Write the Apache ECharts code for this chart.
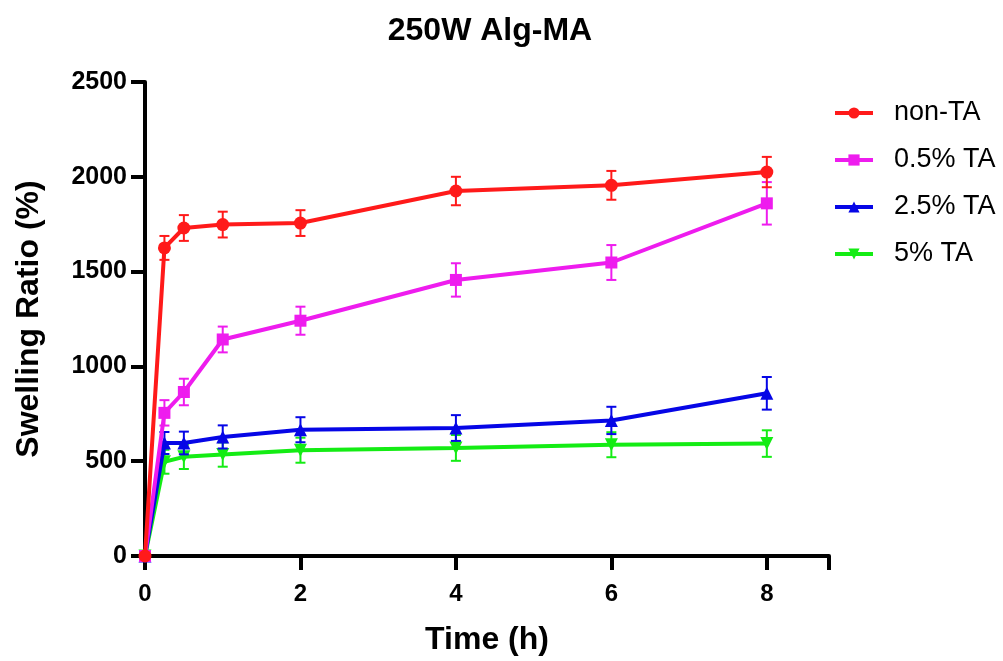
<!DOCTYPE html>
<html>
<head>
<meta charset="utf-8">
<script src="https://cdn.jsdelivr.net/npm/echarts@6/dist/echarts.min.js"></script>
<style>
  html, body { margin: 0; padding: 0; background: #fff; }
  #chart { width: 1003px; height: 661px; }
</style>
</head>
<body>
<div id="chart"></div>
<script>
// Sampling times (h)
const times = [0, 0.25, 0.5, 1, 2, 4, 6, 8];
const xTicks = [0, 2, 4, 6, 8];
const yTicks = [0, 500, 1000, 1500, 2000, 2500];

const seriesNames = ['non-TA', '0.5% TA', '2.5% TA', '5% TA'];

// Mean swelling ratio (%)
const nonTA   = [0, 1625, 1730, 1748, 1756, 1925, 1955, 2025];
const ta05    = [0, 755, 865, 1142, 1241, 1456, 1548, 1860];
const ta25    = [0, 596, 596, 628, 666, 675, 715, 858];
const ta5     = [0, 497, 523, 535, 558, 570, 587, 593];

// Standard deviation (%)
const nonTAsd = [0, 63, 68, 68, 68, 75, 76, 80];
const ta05sd  = [0, 67, 70, 68, 74, 88, 92, 112];
const ta25sd  = [0, 58, 60, 61, 66, 68, 72, 86];
const ta5sd   = [0, 63, 64, 64, 66, 68, 66, 70];

const colors = ['#ff1a1a', '#ee1cee', '#0606e6', '#14ec14'];
const symbols = ['circle', 'rect', 'triangle', 'triangle'];
const rotations = [0, 0, 0, 180];
const means = [nonTA, ta05, ta25, ta5];
const sds = [nonTAsd, ta05sd, ta25sd, ta5sd];
const zOrder = [8, 6, 5, 4];

const chart = echarts.init(document.getElementById('chart'), null, { renderer: 'canvas' });

const series = [];
means.forEach((m, i) => {
  // error bars: vertical whisker with caps
  series.push({
    type: 'custom',
    name: seriesNames[i] + ' sd',
    data: times.map((t, k) => [t, m[k] - sds[i][k], m[k] + sds[i][k]]).filter(d => d[2] > d[1]),
    z: zOrder[i] + 1,
    silent: true,
    renderItem: function (params, api) {
      const lo = api.coord([api.value(0), api.value(1)]);
      const hi = api.coord([api.value(0), api.value(2)]);
      const cap = 5;
      const style = { stroke: colors[i], lineWidth: 2, fill: null };
      return {
        type: 'group',
        children: [
          { type: 'line', shape: { x1: lo[0], y1: lo[1], x2: hi[0], y2: hi[1] }, style: style },
          { type: 'line', shape: { x1: lo[0] - cap, y1: lo[1], x2: lo[0] + cap, y2: lo[1] }, style: style },
          { type: 'line', shape: { x1: hi[0] - cap, y1: hi[1], x2: hi[0] + cap, y2: hi[1] }, style: style }
        ]
      };
    }
  });
  series.push({
    type: 'line',
    name: seriesNames[i],
    data: times.map((t, k) => [t, m[k]]),
    z: zOrder[i],
    symbol: symbols[i],
    symbolRotate: rotations[i],
    symbolSize: i === 1 ? 12 : 13,
    showAllSymbol: true,
    lineStyle: { color: colors[i], width: 4 },
    itemStyle: { color: colors[i] },
    emphasis: { disabled: true },
    animation: false
  });
});

chart.setOption({
  animation: false,
  backgroundColor: '#ffffff',
  title: {
    text: '250W Alg-MA',
    left: 485,
    textAlign: 'center',
    top: 10,
    textStyle: { fontFamily: 'Liberation Sans', fontWeight: 'bold', fontSize: 32, color: '#000' }
  },
  legend: {
    orient: 'vertical',
    left: 833,
    top: 97,
    padding: 0,
    itemWidth: 38,
    itemHeight: 14,
    itemGap: 15,
    data: seriesNames,
    lineStyle: { width: 4 },
    textStyle: {
      fontFamily: 'Liberation Sans',
      fontSize: 27,
      color: '#000',
      lineHeight: 32,
      padding: [0, 0, 0, 16]
    }
  },
  grid: { left: 145, right: 174, top: 82, bottom: 101, containLabel: false },
  xAxis: {
    type: 'value',
    min: 0,
    max: 8.8,
    interval: 2,
    name: 'Time (h)',
    nameLocation: 'middle',
    nameGap: 68,
    nameTextStyle: { fontFamily: 'Liberation Sans', fontWeight: 'bold', fontSize: 32, color: '#000' },
    axisLine: { show: true, onZero: false, lineStyle: { color: '#000', width: 4 } },
    axisTick: { show: true, length: 14, lineStyle: { color: '#000', width: 4 } },
    axisLabel: {
      margin: 26,
      fontFamily: 'Liberation Sans',
      fontWeight: 'bold',
      fontSize: 24,
      color: '#000',
      formatter: v => (xTicks.indexOf(v) >= 0 ? String(v) : '')
    },
    splitLine: { show: false }
  },
  yAxis: {
    type: 'value',
    min: 0,
    max: 2500,
    interval: 500,
    name: 'Swelling Ratio (%)',
    nameLocation: 'middle',
    nameGap: 100,
    nameTextStyle: { fontFamily: 'Liberation Sans', fontWeight: 'bold', fontSize: 32, color: '#000' },
    axisLine: { show: true, lineStyle: { color: '#000', width: 4 } },
    axisTick: { show: true, length: 14, lineStyle: { color: '#000', width: 4 } },
    axisLabel: {
      margin: 18,
      fontFamily: 'Liberation Sans',
      fontWeight: 'bold',
      fontSize: 25,
      color: '#000',
      formatter: v => (yTicks.indexOf(v) >= 0 ? String(v) : '')
    },
    splitLine: { show: false }
  },
  series: series
});
</script>
</body>
</html>
